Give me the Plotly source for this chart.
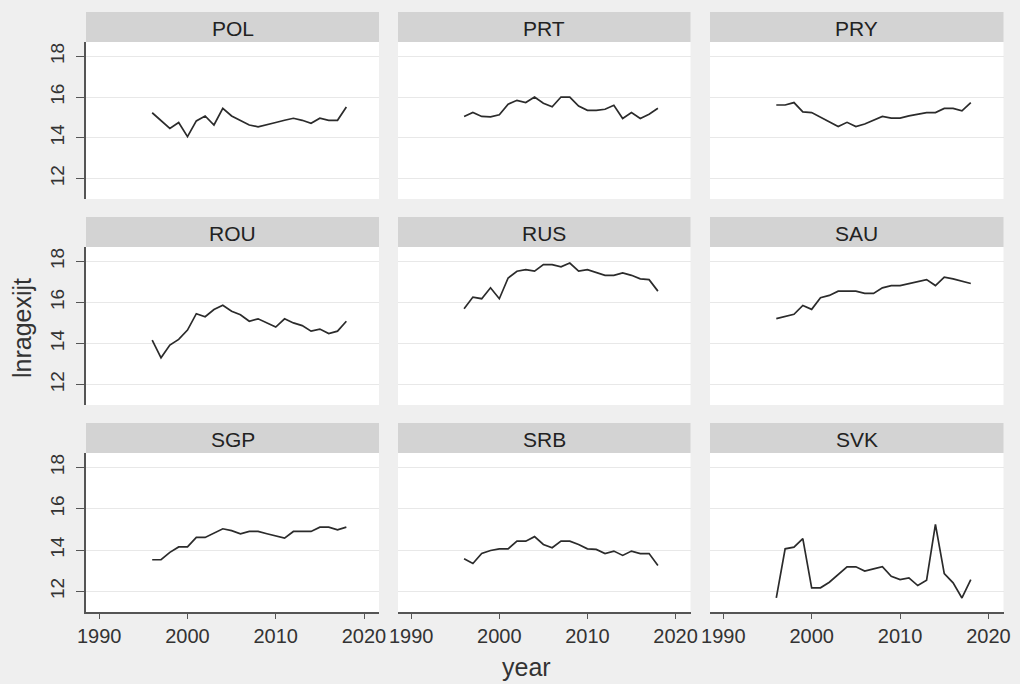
import plotly.graph_objects as go

years = list(range(1996, 2019))
countries = ["POL", "PRT", "PRY", "ROU", "RUS", "SAU", "SGP", "SRB", "SVK"]

POL = [15.23, 14.83, 14.46, 14.75, 14.06, 14.83, 15.07, 14.63, 15.45, 15.07, 14.83, 14.63,
       14.54, 14.63, 14.75, 14.86, 14.96, 14.86, 14.71, 14.96, 14.86, 14.86, 15.51]
PRT = [15.05, 15.24, 15.05, 15.03, 15.13, 15.65, 15.84, 15.73, 16.0, 15.7, 15.52, 16.0,
       16.0, 15.56, 15.35, 15.35, 15.4, 15.6, 14.95, 15.24, 14.95, 15.16, 15.45]
PRY = [15.61, 15.61, 15.73, 15.27, 15.24, 15.0, 14.76, 14.55, 14.76, 14.55, 14.68, 14.87,
       15.05, 14.97, 14.97, 15.08, 15.16, 15.24, 15.24, 15.44, 15.44, 15.32, 15.73]
ROU = [14.16, 13.30, 13.92, 14.2, 14.65, 15.45, 15.3, 15.65, 15.86, 15.57, 15.4, 15.08,
       15.2, 15.0, 14.8, 15.2, 15.0, 14.87, 14.6, 14.7, 14.48, 14.6, 15.08]
RUS = [15.69, 16.26, 16.18, 16.71, 16.18, 17.19, 17.52, 17.6, 17.52, 17.84, 17.84, 17.73,
       17.92, 17.52, 17.6, 17.47, 17.32, 17.32, 17.44, 17.32, 17.15, 17.11, 16.55]
SAU = [15.21, 15.31, 15.42, 15.85, 15.66, 16.23, 16.34, 16.55, 16.55, 16.55, 16.44, 16.44,
       16.71, 16.82, 16.82, 16.92, 17.03, 17.11, 16.82, 17.23, 17.15, 17.03, 16.92]
SGP = [13.53, 13.53, 13.89, 14.15, 14.15, 14.61, 14.61, 14.82, 15.03, 14.94, 14.79, 14.9,
       14.9, 14.79, 14.69, 14.58, 14.9, 14.9, 14.9, 15.11, 15.11, 14.98, 15.11]
SRB = [13.58, 13.35, 13.83, 13.98, 14.06, 14.06, 14.43, 14.43, 14.65, 14.27, 14.11, 14.43,
       14.43, 14.27, 14.06, 14.03, 13.83, 13.95, 13.74, 13.95, 13.83, 13.83, 13.25]
SVK = [11.68, 14.06, 14.14, 14.55, 12.17, 12.17, 12.44, 12.81, 13.19, 13.19, 12.98, 13.09,
       13.19, 12.73, 12.57, 12.65, 12.28, 12.54, 15.24, 12.86, 12.41, 11.68, 12.57]
series = [POL, PRT, PRY, ROU, RUS, SAU, SGP, SRB, SVK]

x_ticks = [1990, 2000, 2010, 2020]
y_ticks = [12, 14, 16, 18]

W, H = 1020, 684
FONT = "Liberation Sans, Arial, sans-serif"
cols_px = [(86, 379), (398, 690.5), (710, 1003.5)]
rows_px = [(42, 199), (247, 405), (453, 612)]
strips_px = [(12, 42), (217, 247), (423, 453)]

def px_x(v):
    return v / W

def px_y(v):
    return 1 - v / H

fig = go.Figure()
layout = dict(
    width=W, height=H,
    margin=dict(l=0, r=0, t=0, b=0, autoexpand=False),
    paper_bgcolor="#efefef",
    plot_bgcolor="#ffffff",
    showlegend=False,
    font=dict(family=FONT, color="#333333"),
)
shapes = []
annotations = []

for i, (name, vals) in enumerate(zip(countries, series)):
    r, c = divmod(i, 3)
    n = i + 1
    xa = "x" if n == 1 else f"x{n}"
    ya = "y" if n == 1 else f"y{n}"
    fig.add_trace(go.Scatter(x=years, y=vals, mode="lines",
                             line=dict(color="#2b2b2b", width=1.7),
                             xaxis=xa, yaxis=ya, hoverinfo="skip"))
    x0, x1 = cols_px[c]
    y0, y1 = rows_px[r]
    bottom = (r == 2)
    left = (c == 0)
    layout["xaxis" if n == 1 else f"xaxis{n}"] = dict(
        domain=[px_x(x0), px_x(x1)], anchor=ya, automargin=False,
        range=[1988.5, 2021.7], tickvals=x_ticks,
        showticklabels=bottom, ticks="outside" if bottom else "",
        ticklen=5, tickcolor="#555555",
        showline=bottom, linecolor="#555555", linewidth=1.5,
        showgrid=False, zeroline=False,
        tickfont=dict(size=20, color="#333333", family=FONT),
    )
    layout["yaxis" if n == 1 else f"yaxis{n}"] = dict(
        domain=[px_y(y1), px_y(y0)], anchor=xa, automargin=False,
        range=[11.0, 18.7], tickvals=y_ticks,
        showticklabels=left, ticks="outside" if left else "",
        ticklen=8, tickcolor="#555555", tickangle=-90, ticklabelstandoff=5,
        showline=left, linecolor="#555555", linewidth=1.5,
        showgrid=True, gridcolor="#e8e8e8", gridwidth=1, zeroline=False,
        tickfont=dict(size=19, color="#333333", family=FONT),
    )
    s0, s1 = strips_px[r]
    shapes.append(dict(type="rect", xref="paper", yref="paper",
                       x0=px_x(x0), x1=px_x(x1), y0=px_y(s1), y1=px_y(s0),
                       fillcolor="#d3d3d3", line=dict(width=0), layer="below"))
    annotations.append(dict(text=name, xref="paper", yref="paper",
                            x=px_x((x0 + x1) / 2), y=px_y((s0 + s1) / 2 + 1),
                            xanchor="center", yanchor="middle", showarrow=False,
                            font=dict(size=21, color="#222222", family=FONT)))

annotations.append(dict(text="lnragexijt", xref="paper", yref="paper",
                        x=px_x(22), y=px_y(328), textangle=-90,
                        xanchor="center", yanchor="middle", showarrow=False,
                        font=dict(size=25, color="#333333", family=FONT)))
annotations.append(dict(text="year", xref="paper", yref="paper",
                        x=px_x(526), y=px_y(667),
                        xanchor="center", yanchor="middle", showarrow=False,
                        font=dict(size=25, color="#333333", family=FONT)))

layout["shapes"] = shapes
layout["annotations"] = annotations
fig.update_layout(**layout)
fig.write_html("out.html")
